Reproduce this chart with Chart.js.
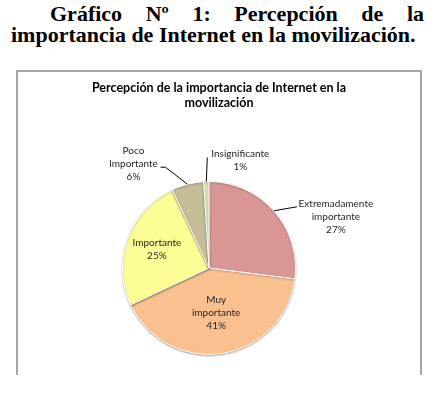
<!DOCTYPE html>
<html>
<head>
<meta charset="utf-8">
<script src="https://cdn.jsdelivr.net/npm/chart.js@4.4.0/dist/chart.umd.min.js"></script>
<style>
    body { margin: 0; background: #fff; width: 438px; height: 396px; position: relative; overflow: hidden; }
    #heading { position: absolute; left: 11px; top: 3px; width: 413px; font: bold 22px/21px "Liberation Serif", "Times New Roman", serif; color: #000; }
    #heading .l1 { text-align: justify; text-align-last: justify; padding-left: 39px; }
    #frame { position: absolute; left: 16px; top: 70px; width: 402px; height: 303px; border: 2px solid #a6a6a6; border-bottom: none; }
</style>
</head>
<body>
<div id="heading">
    <div class="l1">Gráfico Nº 1: Percepción de la</div>
    <div>importancia de Internet en la movilización.</div>
</div>
<div id="frame"><canvas id="pieChart" width="402" height="303"></canvas></div>
<script>
const chartTitle = ['Percepción de la importancia de Internet en la', 'movilización'];
const categories = ['Extremadamente importante', 'Muy importante', 'Importante', 'Poco Importante', 'Insignificante'];
const labelLines = [['Extremadamente', 'importante'], ['Muy', 'importante'], ['Importante'], ['Poco', 'Importante'], ['Insignificante']];
const values = [27, 41, 25, 6, 1];
const sliceColors = ['#da9694', '#fac090', '#fdfd96', '#c4bd97', '#d7e4bd'];

// where each data label goes: inside (fraction of radius) or outside with a leader line
const labelPlacement = [
    {leader: [[23, -4]], text: [62, 6]},
    {inside: 0.53},
    {inside: 0.64},
    {leader: [[-22, -17], [-27, -17]], text: [-54, -20]},
    {leader: [[1, -24]], text: [34, -21]}
];

const total = values.reduce((a, b) => a + b, 0);

const pieLabels = {
    id: 'pieLabels',
    beforeDatasetsDraw(chart) {
        const ctx = chart.ctx;
        ctx.save();
        ctx.shadowColor = 'rgba(0,0,0,0.3)';
        ctx.shadowBlur = 2;
        ctx.shadowOffsetY = 1;
    },
    afterDatasetsDraw(chart) {
        const ctx = chart.ctx;
        ctx.restore();

        // chart title
        ctx.save();
        ctx.fillStyle = '#000';
        ctx.font = 'bold 12.5px Lato';
        ctx.textAlign = 'center';
        ctx.textBaseline = 'middle';
        chartTitle.forEach((t, i) => ctx.fillText(t, chart.width / 2, 16 + i * 15));
        ctx.restore();

        const arcs = chart.getDatasetMeta(0).data;
        ctx.save();
        ctx.font = '10px Lato';
        ctx.fillStyle = '#262626';
        ctx.textAlign = 'center';
        ctx.textBaseline = 'middle';
        arcs.forEach((arc, i) => {
            const p = arc.getProps(['x', 'y', 'startAngle', 'endAngle', 'outerRadius'], true);
            const mid = (p.startAngle + p.endAngle) / 2;
            const lines = labelLines[i].concat([Math.round(values[i] / total * 100) + '%']);
            const place = labelPlacement[i];
            let cx, cy;
            if (place.inside) {
                cx = p.x + Math.cos(mid) * p.outerRadius * place.inside;
                cy = p.y + Math.sin(mid) * p.outerRadius * place.inside;
            } else {
                const ex = p.x + Math.cos(mid) * p.outerRadius;
                const ey = p.y + Math.sin(mid) * p.outerRadius;
                ctx.strokeStyle = '#000';
                ctx.lineWidth = 1;
                ctx.beginPath();
                ctx.moveTo(ex, ey);
                place.leader.forEach(pt => ctx.lineTo(ex + pt[0], ey + pt[1]));
                ctx.stroke();
                cx = ex + place.text[0];
                cy = ey + place.text[1];
            }
            const lh = 13;
            const top = cy - (lines.length - 1) * lh / 2;
            lines.forEach((l, j) => ctx.fillText(l, cx, top + j * lh));
        });
        ctx.restore();
    }
};

new Chart(document.getElementById('pieChart').getContext('2d'), {
    type: 'pie',
    data: {
        labels: categories,
        datasets: [{
            data: values,
            backgroundColor: sliceColors,
            borderColor: '#fff',
            borderWidth: 1
        }]
    },
    options: {
        responsive: false,
        animation: false,
        layout: {
            padding: {top: 109, left: 104, right: 124, bottom: 20}
        },
        plugins: {
            legend: {display: false},
            title: {display: false},
            tooltip: {enabled: false}
        }
    },
    plugins: [pieLabels]
});
</script>
</body>
</html>
